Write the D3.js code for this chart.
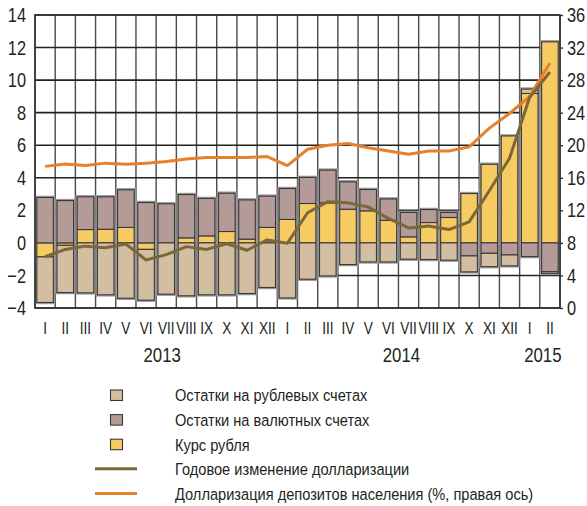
<!DOCTYPE html>
<html>
<head>
<meta charset="utf-8">
<script src="https://cdn.jsdelivr.net/npm/d3@7"></script>
<style>
  html, body { margin: 0; padding: 0; background: #fff; }
  svg { display: block; }
  text { font-family: "Liberation Sans", Arial, sans-serif; fill: #231f20; }
</style>
</head>
<body>
<svg id="chart" width="587" height="506"></svg>
<script>
// Month labels (Jan 2013 – Feb 2015)
const months = ["I","II","III","IV","V","VI","VII","VIII","IX","X","XI","XII",
                "I","II","III","IV","V","VI","VII","VIII","IX","X","XI","XII",
                "I","II"];
const years = [
  { label: "2013", from: 0, to: 11 },
  { label: "2014", from: 12, to: 23 },
  { label: "2015", from: 24, to: 25 }
];

// Contributions, p.p. (left axis)
const rubAccounts = [-2.80, -2.90, -3.07, -3.19, -3.40, -3.12, -3.15, -3.25, -3.19, -3.19, -3.11, -2.74,
                     -3.38, -2.23, -2.03, -1.33, -1.17, -1.17, -1.00, -1.02, -1.06, -0.98, -0.82, -0.67,
                      0.27, -0.10];
const fxAccounts  = [ 2.79,  2.60,  2.01,  1.99,  2.31,  2.48,  2.40,  2.66,  2.30,  2.35,  2.41,  1.92,
                      1.90,  1.60,  2.01,  1.68,  1.31,  1.31,  1.50,  0.80,  0.31, -0.80, -0.64, -0.74,
                     -0.84, -1.77];
const rubleRate   = [-0.86, -0.15,  0.82,  0.84,  0.95, -0.40,  0.00,  0.31,  0.43,  0.70,  0.23,  0.95,
                      1.44,  2.42,  2.46,  2.07,  1.97,  1.39,  0.37,  1.25,  1.56,  3.03,  4.83,  6.57,
                      9.18, 12.35];

// Annual change in dollarization, p.p. (left axis)
const annualChange = [-0.85, -0.40, -0.20, -0.30, -0.07, -1.05, -0.72, -0.23, -0.40, -0.05, -0.45, 0.18,
                      -0.02,  1.85,  2.53,  2.46,  2.21,  1.50,  0.92,  1.04,  0.82,  1.29,  3.20, 5.20,
                       8.95, 10.50];

// Dollarization of household deposits, % (right axis)
const dollarization = [17.4, 17.7, 17.5, 17.8, 17.65, 17.8, 18.0, 18.3, 18.5, 18.5, 18.5, 18.6,
                       17.5, 19.5, 20.0, 20.2, 19.7, 19.3, 18.9, 19.3, 19.3, 19.8, 22.1, 23.9,
                       26.0, 30.1];

const leftTicks  = [-4, -2, 0, 2, 4, 6, 8, 10, 12, 14];
const rightTicks = [0, 4, 8, 12, 16, 20, 24, 28, 32, 36];

const seriesNames = {
  rub: "Остатки на рублевых счетах",
  fx: "Остатки на валютных счетах",
  rate: "Курс рубля",
  annual: "Годовое изменение долларизации",
  dollar: "Долларизация депозитов населения (%, правая ось)"
};

const colors = {
  rub: "#d3bea2",
  fx: "#b49b97",
  rate: "#f6cb62",
  annual: "#7b6737",
  dollar: "#e8802a"
};

// Horizontal compression for a condensed look
function narrow(factor) {
  return sel => sel.each(function () {
    const t = d3.select(this);
    const x0 = +t.attr("x") || 0;
    t.attr("transform", `translate(${x0},0) scale(${factor},1) translate(${-x0},0)`);
  });
}

const svg = d3.select("#chart");
const plot = { left: 35, right: 560, top: 15, bottom: 308 };

const x = d3.scaleBand()
  .domain(d3.range(months.length))
  .range([plot.left, plot.right])
  .paddingInner(0.18)
  .paddingOuter(0.09);
const step = (plot.right - plot.left) / months.length;
const cx = i => x(i) + x.bandwidth() / 2;

const yL = d3.scaleLinear().domain([-4, 14]).range([plot.bottom, plot.top]);
const yR = d3.scaleLinear().domain([0, 36]).range([plot.bottom, plot.top]);

// Grid
const grid = svg.append("g");
grid.selectAll("line.v")
  .data(d3.range(months.length + 1))
  .join("line")
  .attr("x1", i => plot.left + i * step)
  .attr("x2", i => plot.left + i * step)
  .attr("y1", plot.top).attr("y2", plot.bottom)
  .attr("stroke", "#4a4a4a").attr("stroke-width", 1.4);
grid.selectAll("line.h")
  .data(leftTicks)
  .join("line")
  .attr("x1", plot.left).attr("x2", plot.right)
  .attr("y1", d => yL(d)).attr("y2", d => yL(d))
  .attr("stroke", "#222").attr("stroke-width", 1.6);

// Stacked bars (diverging around zero)
const table = months.map((m, i) => ({ i, rate: rubleRate[i], fx: fxAccounts[i], rub: rubAccounts[i] }));
const keys = ["rate", "fx", "rub"];
const stacked = d3.stack().keys(keys).offset(d3.stackOffsetDiverging)(table);

const barsHalo = svg.append("g");
const bars = svg.append("g");
stacked.forEach(layer => {
  const segs = layer.filter(d => Math.abs(d[1] - d[0]) > 1e-6);
  barsHalo.selectAll(null)
    .data(segs)
    .join("rect")
    .attr("x", d => x(d.data.i))
    .attr("width", x.bandwidth())
    .attr("y", d => yL(Math.max(d[0], d[1])))
    .attr("height", d => Math.abs(yL(d[0]) - yL(d[1])))
    .attr("fill", "none")
    .attr("stroke", "#9a9a9a")
    .attr("stroke-width", 3.5);
  bars.selectAll(null)
    .data(segs)
    .join("rect")
    .attr("x", d => x(d.data.i))
    .attr("width", x.bandwidth())
    .attr("y", d => yL(Math.max(d[0], d[1])))
    .attr("height", d => Math.abs(yL(d[0]) - yL(d[1])))
    .attr("fill", colors[layer.key])
    .attr("stroke", "#3c3838")
    .attr("stroke-width", 1.1);
});

// Frame
svg.append("rect")
  .attr("x", plot.left).attr("y", plot.top)
  .attr("width", plot.right - plot.left).attr("height", plot.bottom - plot.top)
  .attr("fill", "none").attr("stroke", "#333").attr("stroke-width", 1.6);

// Lines
const lineL = d3.line().x((d, i) => cx(i)).y(d => yL(d));
const lineR = d3.line().x((d, i) => cx(i)).y(d => yR(d));
svg.append("path").datum(dollarization)
  .attr("d", lineR).attr("fill", "none")
  .attr("stroke", colors.dollar).attr("stroke-width", 3).attr("stroke-linejoin", "round");
svg.append("path").datum(annualChange)
  .attr("d", lineL).attr("fill", "none")
  .attr("stroke", colors.annual).attr("stroke-width", 3).attr("stroke-linejoin", "round");

// Axes
const axisLeft = d3.axisLeft(yL).tickValues(leftTicks).tickSize(0).tickPadding(8);
svg.append("g").attr("transform", `translate(${plot.left - 1},0)`).call(axisLeft)
  .call(g => g.select(".domain").remove())
  .call(g => g.selectAll("text").attr("font-size", 20.5).attr("font-family", null).call(narrow(0.8)));

const axisRight = d3.axisRight(yR).tickValues(rightTicks).tickSize(3).tickPadding(4);
svg.append("g").attr("transform", `translate(${plot.right},0)`).call(axisRight)
  .call(g => g.select(".domain").remove())
  .call(g => g.selectAll("line").attr("stroke", "#333").attr("stroke-width", 1.4))
  .call(g => g.selectAll("text").attr("font-size", 20.5).attr("font-family", null).call(narrow(0.8)));

const axisBottom = d3.axisBottom(x).tickFormat(i => months[i]).tickSize(0).tickPadding(14);
svg.append("g").attr("transform", `translate(0,${plot.bottom})`).call(axisBottom)
  .call(g => g.select(".domain").remove())
  .call(g => g.selectAll("text").attr("font-size", 17).attr("font-family", null).call(narrow(0.8)));

svg.append("g").selectAll("text")
  .data(years)
  .join("text")
  .attr("x", d => (cx(d.from) + cx(d.to)) / 2 + (d.label === "2013" ? 6 : 3))
  .attr("y", 362)
  .attr("text-anchor", "middle")
  .attr("font-size", 21)
  .text(d => d.label)
  .call(narrow(0.8));

// Legend
const legendItems = [
  { key: "rub", type: "box" },
  { key: "fx", type: "box" },
  { key: "rate", type: "box" },
  { key: "annual", type: "line" },
  { key: "dollar", type: "line" }
];
const legend = svg.append("g");
legendItems.forEach((it, k) => {
  const base = 401.5 + k * 24.6;
  if (it.type === "box") {
    legend.append("rect")
      .attr("x", 110.5).attr("y", base - 11.5)
      .attr("width", 12).attr("height", 10.5)
      .attr("fill", colors[it.key]).attr("stroke", "#3c3838").attr("stroke-width", 1.1);
  } else {
    legend.append("line")
      .attr("x1", 95).attr("x2", 137)
      .attr("y1", base - 6.5).attr("y2", base - 6.5)
      .attr("stroke", colors[it.key]).attr("stroke-width", 3);
  }
  legend.append("text")
    .attr("x", 175).attr("y", base)
    .attr("font-size", 17)
    .text(seriesNames[it.key])
    .call(narrow(0.86));
});
</script>
</body>
</html>
